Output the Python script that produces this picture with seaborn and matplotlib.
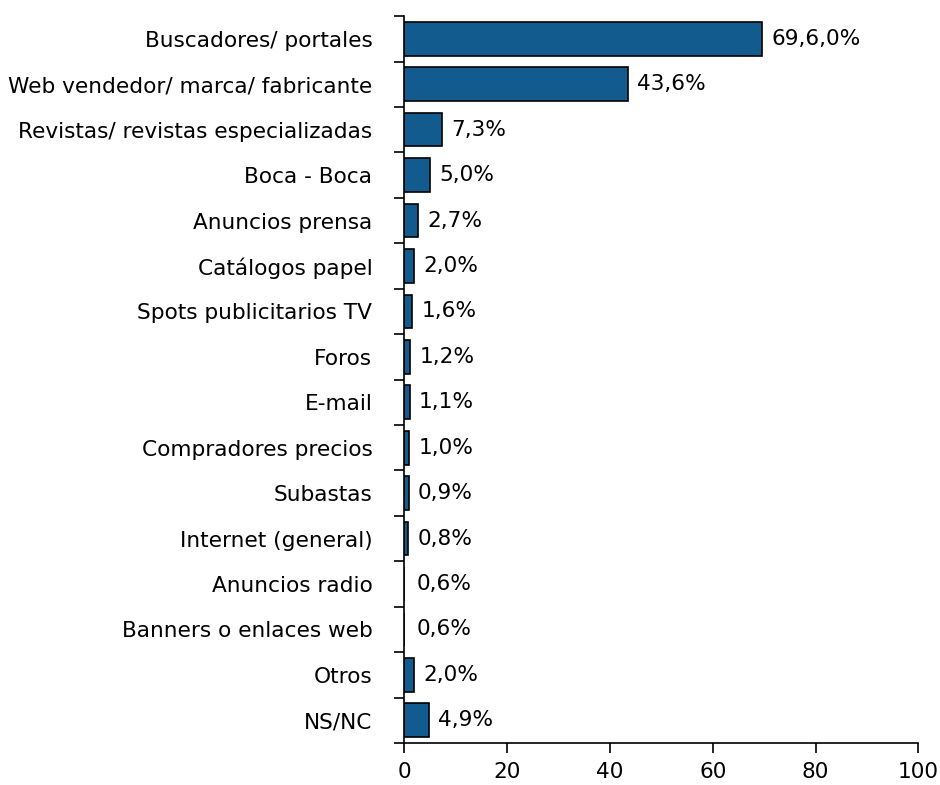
import matplotlib
matplotlib.use("Agg")
import matplotlib.pyplot as plt
import numpy as np
import pandas as pd
import seaborn as sns

# Data
categories = [
    "Buscadores/ portales", "Web vendedor/ marca/ fabricante",
    "Revistas/ revistas especializadas", "Boca - Boca", "Anuncios prensa",
    "Catálogos papel", "Spots publicitarios TV", "Foros", "E-mail",
    "Compradores precios", "Subastas", "Internet (general)",
    "Anuncios radio", "Banners o enlaces web", "Otros", "NS/NC",
]
values = [69.6, 43.6, 7.3, 5.0, 2.7, 2.0, 1.6, 1.2, 1.1, 1.0, 0.9, 0.8,
          0.6, 0.6, 2.0, 4.9]
# the two 0,6% rows have no visible bar in the original
bar_shown = [True] * 12 + [False, False] + [True, True]
value_labels = ["69,6,0%", "43,6%", "7,3%", "5,0%", "2,7%", "2,0%", "1,6%",
                "1,2%", "1,1%", "1,0%", "0,9%", "0,8%", "0,6%", "0,6%",
                "2,0%", "4,9%"]

df = pd.DataFrame({"cat": categories, "val": values, "shown": bar_shown})
df["bar"] = df["val"].where(df["shown"], 0.0)

sns.set_style("white")
plt.rcParams["font.family"] = ["DejaVu Sans"]
plt.rcParams["text.color"] = "black"
plt.rcParams["xtick.color"] = "black"
plt.rcParams["ytick.color"] = "black"

fs = 15.6

fig = plt.figure(figsize=(9.4, 7.85), dpi=100)
ax = fig.add_axes([0.430, 0.0535, 0.547, 0.926])

sns.barplot(data=df, x="bar", y="cat", orient="h", color="#115B8F",
            saturation=1, edgecolor="black", linewidth=1.2, width=0.74,
            ax=ax)

for i, (v, lab) in enumerate(zip(df["val"], value_labels)):
    ax.annotate(lab, xy=(v, i), xytext=(6.5, 0), textcoords="offset points",
                va="center", ha="left", fontsize=fs, color="black")

n = len(categories)
ax.set_xlim(0, 100)
ax.set_ylim(n - 0.5, -0.5)
ax.set_xticks([0, 20, 40, 60, 80, 100])
ax.set_yticks(np.arange(-0.5, n, 1))
ax.set_yticklabels([])
ax.set_yticks(np.arange(n), minor=True)
ax.set_yticklabels(categories, minor=True)
ax.tick_params(axis="y", which="major", length=7, width=1.2, direction="out",
               left=True)
ax.tick_params(axis="y", which="minor", length=0, pad=23, labelsize=fs)
ax.tick_params(axis="x", length=7, width=1.2, direction="out",
               bottom=True, labelsize=fs, pad=7)
ax.set_xlabel("")
ax.set_ylabel("")

for s in ["top", "right"]:
    ax.spines[s].set_visible(False)
for s in ["left", "bottom"]:
    ax.spines[s].set_color("black")
    ax.spines[s].set_linewidth(1.2)

fig.savefig("out.png", dpi=100)
